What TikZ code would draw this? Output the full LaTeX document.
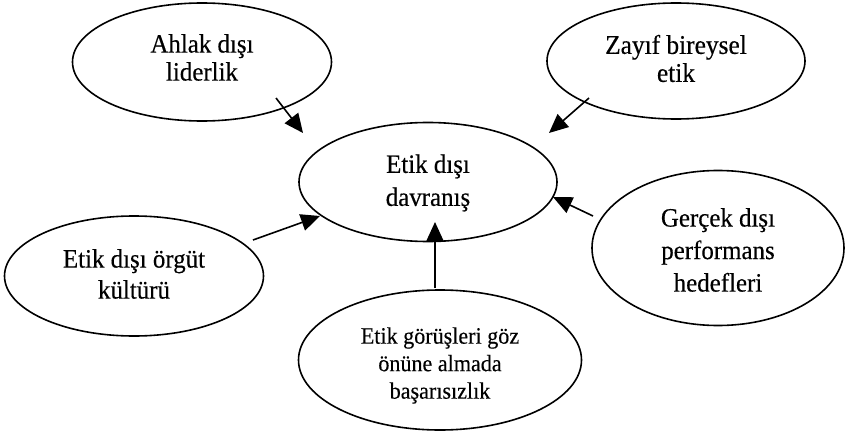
\documentclass[tikz,border=0pt]{standalone}
\usepackage{fontspec}
\setmainfont[FakeStretch=0.94,FakeBold=0.35]{Liberation Serif}
\usetikzlibrary{shapes.geometric,arrows.meta,calc}
\begin{document}
\begin{tikzpicture}[x=1pt,y=-1pt,
  oval/.style={ellipse,draw,line width=1.6pt,inner sep=0pt},
  txt/.style={inner sep=0pt,align=center},
  arr/.style={line width=1.6pt,-{Triangle[length=19pt,width=17pt]}}]
\useasboundingbox (0,0) rectangle (846,436);
\node[oval,minimum width=259pt,minimum height=118pt] (ahlak) at (202,62) {};
\node[oval,minimum width=258pt,minimum height=116pt] (zayif) at (676,61) {};
\node[oval,minimum width=258pt,minimum height=119pt] (etik) at (428,182) {};
\node[oval,minimum width=259pt,minimum height=120pt] (orgut) at (134,276) {};
\node[oval,minimum width=252pt,minimum height=155pt] (gercek) at (718,248) {};
\node[oval,minimum width=283pt,minimum height=140pt] (basari) at (440,360) {};
\node[txt,font=\fontsize{26.5}{28}\selectfont] (ahlakT) at ($(ahlak.center)+(0,-4.5)$) {Ahlak dışı\\liderlik};
\node[txt,font=\fontsize{27}{28}\selectfont] (zayifT) at ($(zayif.center)+(0,-2.5)$) {Zayıf bireysel\\etik};
\node[txt,font=\fontsize{26.5}{33}\selectfont] (etikT) at ($(etik.center)+(0,1)$) {Etik dışı\\davranış};
\node[txt,font=\fontsize{26.5}{31}\selectfont] (orgutT) at ($(orgut.center)+(0,-2)$) {Etik dışı örgüt\\kültürü};
\node[txt,font=\fontsize{26.5}{32.5}\selectfont] (gercekT) at ($(gercek.center)+(0,2)$) {Gerçek dışı\\performans\\hedefleri};
\node[txt,font=\fontsize{23.5}{27.5}\selectfont] (basariT) at ($(basari.center)+(0,5.5)$) {Etik görüşleri göz\\önüne almada\\başarısızlık};
\draw[arr] ($(ahlak.center)+(74,36)$) -- ($(etik.center)+(-125,-49)$);
\draw[arr] ($(zayif.center)+(-87,37)$) -- ($(etik.center)+(121,-49)$);
\draw[arr] ($(orgut.center)+(119,-36)$) -- ($(etik.center)+(-108,34)$);
\draw[arr] ($(gercek.center)+(-125,-32)$) -- ($(etik.center)+(125,15)$);
\draw[arr] ($(basari.center)+(-5,-72)$) -- ($(etik.center)+(7,40)$);
\end{tikzpicture}
\end{document}
